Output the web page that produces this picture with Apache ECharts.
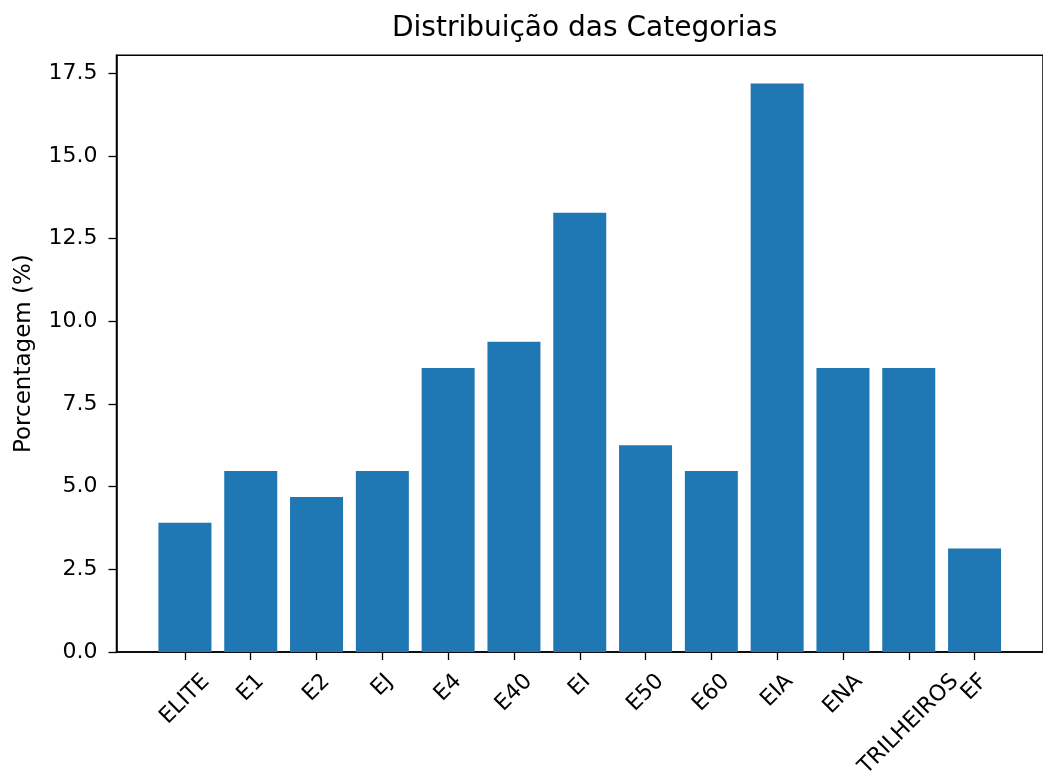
<!DOCTYPE html>
<html>
<head>
<meta charset="utf-8">
<script src="https://cdn.jsdelivr.net/npm/echarts@6/dist/echarts.min.js"></script>
<style>
html,body{margin:0;padding:0;background:#fff;}
#chart{width:1043px;height:773px;}
</style>
</head>
<body>
<div id="chart"></div>
<script>
const categories = ['ELITE','E1','E2','EJ','E4','E40','EI','E50','E60','EIA','ENA','TRILHEIROS','EF'];
const values = [3.91, 5.47, 4.69, 5.47, 8.59, 9.38, 13.28, 6.25, 5.47, 17.19, 8.59, 8.59, 3.13];
const yTicks = [0, 2.5, 5, 7.5, 10, 12.5, 15, 17.5];
const titleText = 'Distribuição das Categorias';
const yName = 'Porcentagem (%)';

const FONT = '"DejaVu Sans", "Liberation Sans", sans-serif';
const TICK_FS = 22;
const TITLE_FS = 28;
const GRID_LEFT = 116.5;
const GRID_RIGHT = -9.8;
const GRID_TOP = 55.2;
const GRID_BOTTOM = 773 - 652;
const plotCenter = (GRID_LEFT + (1043 - GRID_RIGHT)) / 2;

const mctx = document.createElement('canvas').getContext('2d');
function measure(t, fs) { mctx.font = fs + 'px ' + FONT; return mctx.measureText(t).width; }

const xIdx = categories.map((c, i) => i);
const chart = echarts.init(document.getElementById('chart'), null, {renderer: 'canvas'});

const titleW = measure(titleText, TITLE_FS);

chart.setOption({
  animation: false,
  backgroundColor: '#ffffff',
  title: {
    text: titleText,
    left: plotCenter - titleW / 2,
    top: 15,
    padding: 0,
    textStyle: {fontFamily: FONT, fontSize: TITLE_FS, fontWeight: 'normal', color: '#000'}
  },
  grid: {
    left: GRID_LEFT, right: GRID_RIGHT, top: GRID_TOP, bottom: GRID_BOTTOM,
    show: true, borderColor: '#000', borderWidth: 1.5, containLabel: false
  },
  xAxis: {
    type: 'value',
    min: -1.04,
    max: 13.04,
    splitLine: {show: false},
    axisLine: {show: true, onZero: false, lineStyle: {color: '#000', width: 1.5}},
    axisTick: {show: true, customValues: xIdx, length: 8, lineStyle: {color: '#000', width: 1.3}},
    axisLabel: {show: false}
  },
  yAxis: {
    type: 'value',
    min: 0,
    max: 18.047,
    splitLine: {show: false},
    axisLine: {show: true, onZero: false, lineStyle: {color: '#000', width: 1.5}},
    axisTick: {show: true, customValues: yTicks, length: 8, lineStyle: {color: '#000', width: 1.3}},
    axisLabel: {
      customValues: yTicks, margin: 19,
      fontFamily: FONT, fontSize: TICK_FS, color: '#000',
      formatter: v => Number(v).toFixed(1)
    },
    name: yName,
    nameLocation: 'middle',
    nameRotate: 90,
    nameGap: 81,
    nameTextStyle: {fontFamily: FONT, fontSize: 23, color: '#000'}
  },
  series: [
    {
      type: 'bar',
      data: values.map((v, i) => [i, v]),
      barWidth: 53,
      itemStyle: {color: '#1f77b4'},
      silent: true
    },
    {
      type: 'custom',
      silent: true,
      clip: false,
      data: categories.map((c, i) => [i, 0]),
      renderItem: function (params, api) {
        const p = api.coord([api.value(0), 0]);
        const name = categories[params.dataIndex];
        const L = measure(name, TICK_FS);
        const H = TICK_FS * 1.164;
        const gap = 17;
        return {
          type: 'text',
          x: p[0],
          y: p[1] + gap + 0.35355 * (L + H),
          rotation: Math.PI / 4,
          style: {
            text: name,
            x: 0, y: 0,
            font: TICK_FS + 'px ' + FONT,
            fill: '#000',
            align: 'center',
            verticalAlign: 'middle'
          }
        };
      }
    }
  ]
});
</script>
</body>
</html>
